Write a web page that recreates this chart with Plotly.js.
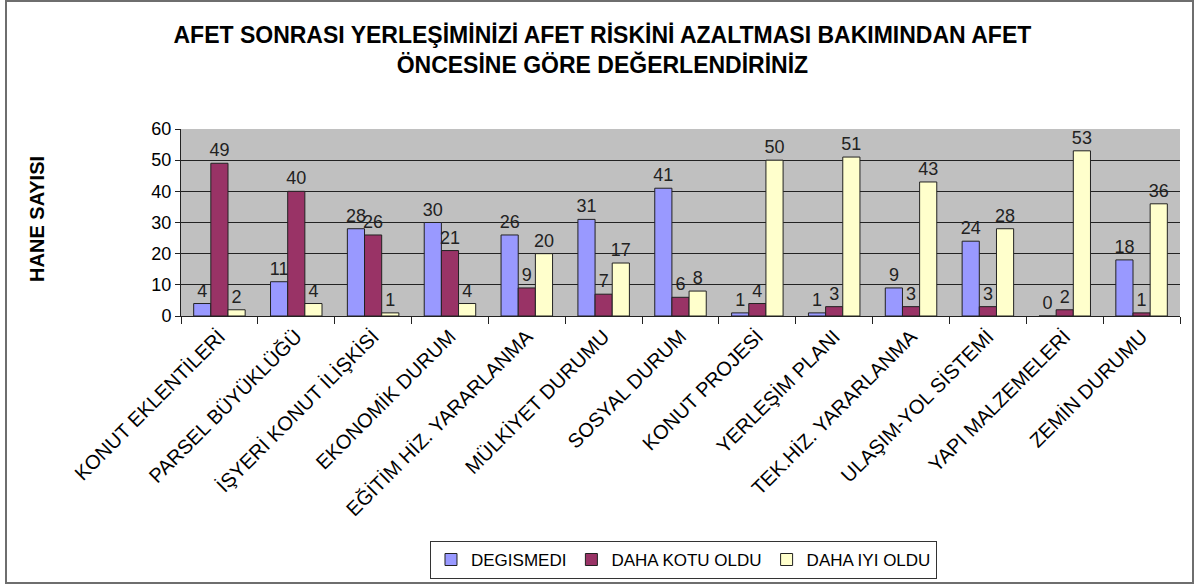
<!DOCTYPE html>
<html>
<head>
<meta charset="utf-8">
<script src="https://cdn.plot.ly/plotly-3.0.1.min.js"></script>
<style>
html,body{margin:0;padding:0;background:#fff;}
#wrap{position:relative;width:1200px;height:585px;}
#chart{width:1200px;height:585px;}
#frame{position:absolute;left:5px;top:0px;width:1189px;height:584px;border:2px solid #6e6e6e;pointer-events:none;box-sizing:border-box;}
</style>
</head>
<body>
<div id="wrap"><div id="chart"></div><div id="frame"></div></div>
<script>
const categories = ["KONUT EKLENTİLERİ","PARSEL BÜYÜKLÜĞÜ","İŞYERİ KONUT İLİŞKİSİ","EKONOMİK DURUM","EĞİTİM HİZ. YARARLANMA","MÜLKİYET DURUMU","SOSYAL DURUM","KONUT PROJESİ","YERLEŞİM PLANI","TEK.HİZ. YARARLANMA","ULAŞIM-YOL SİSTEMİ","YAPI MALZEMELERİ","ZEMİN DURUMU"];
const degismedi = [4, 11, 28, 30, 26, 31, 41, 1, 1, 9, 24, 0, 18];
const dahaKotu = [49, 40, 26, 21, 9, 7, 6, 4, 3, 3, 3, 2, 1];
const dahaIyi = [2, 4, 1, 4, 20, 17, 8, 50, 51, 43, 28, 53, 36];
const seriesNames = ["DEGISMEDI", "DAHA KOTU OLDU", "DAHA IYI OLDU"];

const FONT = "Liberation Sans, Arial, sans-serif";
function mk(name, vals, color){
  return {
    type: 'bar', name: name, x: categories, y: vals,
    text: vals.map(String), textposition: 'outside', cliponaxis: false,
    constraintext: 'none',
    textfont: {family: FONT, size: 18, color: '#222'},
    marker: {color: color, line: {color: '#222', width: 1}}
  };
}
const data = [
  mk(seriesNames[0], degismedi, '#9999FF'),
  mk(seriesNames[1], dahaKotu, '#993366'),
  mk(seriesNames[2], dahaIyi, '#FFFFCC')
];
const layout = {
  width: 1200, height: 585,
  margin: {l: 181, r: 20, t: 129, b: 269, autoexpand: false},
  paper_bgcolor: '#fff', plot_bgcolor: '#C0C0C0',
  font: {family: FONT, size: 18, color: '#000'},
  barmode: 'group', bargap: 0.33, bargroupgap: 0,
  title: {text: '<b>AFET SONRASI YERLEŞİMİNİZİ AFET RİSKİNİ AZALTMASI BAKIMINDAN AFET<br>ÖNCESİNE GÖRE DEĞERLENDİRİNİZ</b>',
    font: {family: FONT, size: 23, color: '#000'}, x: 0.502, xref: 'container', y: 0.926, yref: 'container', yanchor: 'top', xanchor: 'center'},
  xaxis: {type: 'category', tickangle: -45, showline: true, linecolor: '#222', linewidth: 1, automargin: false,
    ticks: 'outside', tickson: 'boundaries', ticklen: 7, tickcolor: '#222',
    tickfont: {family: FONT, size: 20, color: '#000'}, showgrid: false},
  yaxis: {range: [0, 60], dtick: 10, showline: true, linecolor: '#222', linewidth: 1, automargin: false,
    ticks: 'outside', ticklen: 5, tickcolor: '#222', gridcolor: '#222', gridwidth: 1,
    tickfont: {family: FONT, size: 18, color: '#000'}, zeroline: false},
  legend: {orientation: 'h', x: 0.503, xanchor: 'center', y: -1.203, yanchor: 'top',
    bordercolor: '#333', borderwidth: 1, bgcolor: '#fff', itemwidth: 30,
    font: {family: FONT, size: 17, color: '#000'}},
  annotations: [{text: '<b>HANE SAYISI</b>', xref: 'paper', yref: 'paper', x: -0.144, xanchor: 'center', y: 0.52, yanchor: 'middle',
    textangle: -90, showarrow: false, font: {family: FONT, size: 20, color: '#000'}}],
  showlegend: true
};
Plotly.newPlot('chart', data, layout, {displayModeBar: false, staticPlot: true});
</script>
</body>
</html>
